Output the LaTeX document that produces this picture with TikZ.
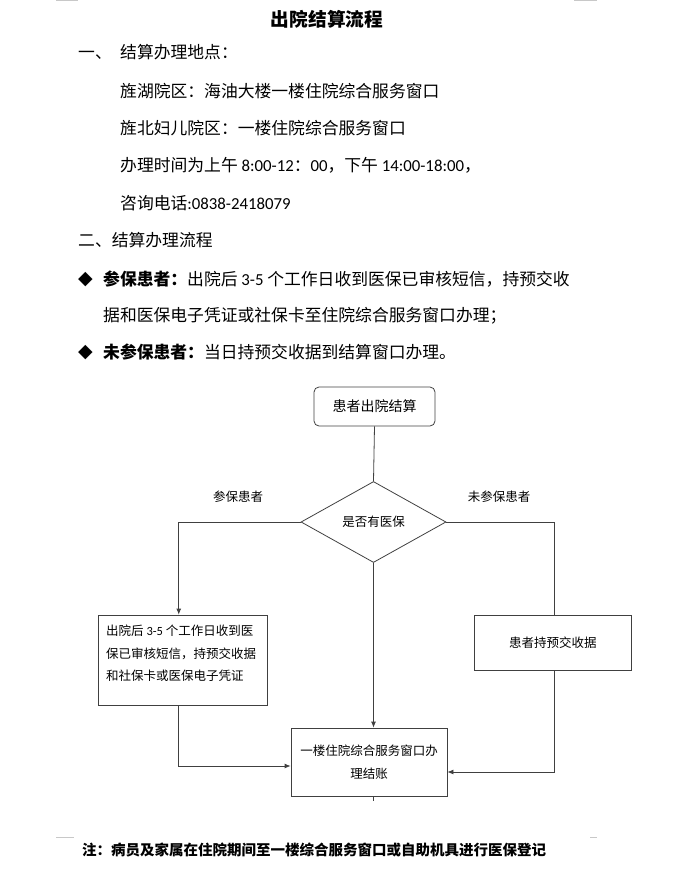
\documentclass[tikz,border=0pt]{standalone}
\usepackage{fontspec}
\setmainfont{Noto Sans CJK SC}
\newfontfamily\numf{Carlito}
\newfontfamily\symf{DejaVu Sans}
\usetikzlibrary{shapes.geometric,arrows.meta}
\definecolor{linegray}{HTML}{404040}
\definecolor{markgray}{HTML}{C8C8C8}
\begin{document}
\begin{tikzpicture}[x=1pt,y=-1pt,
			body/.style={
				anchor=west,
				inner sep=0pt,
				font=\fontsize{16.8}{20}\selectfont,
				text height=0.85em,
				text depth=0.15em
			},
			flowbox/.style={
				draw=linegray,
				line width=0.8pt,
				inner sep=0pt,
				font=\fontsize{12.5}{23}\selectfont
			},
			link/.style={draw=linegray, line width=0.8pt},
			arr/.style={link, -{Latex[length=6pt,width=5pt]}}
			]
			\useasboundingbox (0,0) rectangle (685,888);
			%---------------- page marks ----------------
			\draw[markgray, line width=1pt] (56,1)--(78,1) (574,1)--(597,1);
			\draw[markgray, line width=1pt] (56,837)--(74,837) (590,837)--(597,837);
			%---------------- TITLE ----------------
			\node[inner sep=0pt, font=\fontsize{18.7}{22}\selectfont\bfseries] (title) at (327,19) {出院结算流程};
			%---------------- PART ONE ----------------
			\node[body] (p1) at (78,55) {一、};
			\node[body] (p1t) at (120,55) {结算办理地点：};
			\node[body] (l1) at (120,94) {旌湖院区：海油大楼一楼住院综合服务窗口};
			\node[body] (l2) at (120,131) {旌北妇儿院区：一楼住院综合服务窗口};
			\node[body] (l3) at (120,168) {办理时间为上午 {\numf 8:00-12}：{\numf 00}，下午 {\numf 14:00-18:00}，};
			\node[body] (l4) at (120,206) {咨询电话{\numf :0838-2418079}};
			%---------------- PART TWO ----------------
			\node[body] (p2) at (78,243) {二、结算办理流程};
			\node[body, font=\fontsize{19}{20}\symf] (b1) at (78,281) {◆};
			\node[body] (l5) at (103,282) {\textbf{参保患者：}出院后 {\numf 3-5} 个工作日收到医保已审核短信，持预交收};
			\node[body] (l6) at (103,318) {据和医保电子凭证或社保卡至住院综合服务窗口办理；};
			\node[body, font=\fontsize{19}{20}\symf] (b2) at (78,354) {◆};
			\node[body] (l7) at (103,355) {\textbf{未参保患者：}当日持预交收据到结算窗口办理。};
			%---------------- FLOWCHART ----------------
			\node[flowbox, rounded corners=5pt, minimum width=121pt, minimum height=39pt,
				font=\fontsize{14}{16}\selectfont] (start) at (374.5,406.5) {患者出院结算};
			\node[flowbox, diamond, minimum width=145pt, minimum height=81pt] (ask) at (373.5,522) {是否有医保};
			\node[inner sep=0pt, font=\fontsize{12.5}{16}\selectfont] (yes) at (238,497) {参保患者};
			\node[inner sep=0pt, font=\fontsize{12.5}{16}\selectfont] (no) at (499,497) {未参保患者};
			\node[flowbox, minimum width=169.5pt, minimum height=90pt] (ins) at (182.75,660) {};
			\node[anchor=north west, inner sep=0pt, align=left, font=\fontsize{12.5}{22.5}\selectfont] (instext) at (106,625)
				{出院后 {\numf 3-5} 个工作日收到医\\保已审核短信，持预交收据\\和社保卡或医保电子凭证};
			\node[flowbox, minimum width=156.4pt, minimum height=55pt] (self) at (552.8,642.5) {患者持预交收据};
			\node[flowbox, minimum width=156pt, minimum height=68pt, align=center, text width=150pt] (fin) at (369,762)
				{一楼住院综合服务窗口办\\理结账};
			\coordinate (stub) at (373.5,801);
			% connectors
			\draw[link] (start.south) -- (ask.north);
			\draw[arr] (ask.west) -| ([xshift=-4pt]ins.north);
			\draw[link] (ask.east) -| ([xshift=2pt]self.north);
			\draw[arr] (ask.south) -- (ask.south |- fin.north);
			\draw[arr] ([xshift=-4pt]ins.south) |- ([yshift=-4pt]fin.west);
			\draw[arr] ([xshift=2pt]self.south) |- ([yshift=-10pt]fin.east);
			\draw[link] (ask.south |- fin.south) -- (stub);
			%---------------- NOTE ----------------
			\node[body, font=\fontsize{14.5}{18}\selectfont\bfseries] (note) at (82,852) {注：病员及家属在住院期间至一楼综合服务窗口或自助机具进行医保登记};
		\end{tikzpicture}
\end{document}
